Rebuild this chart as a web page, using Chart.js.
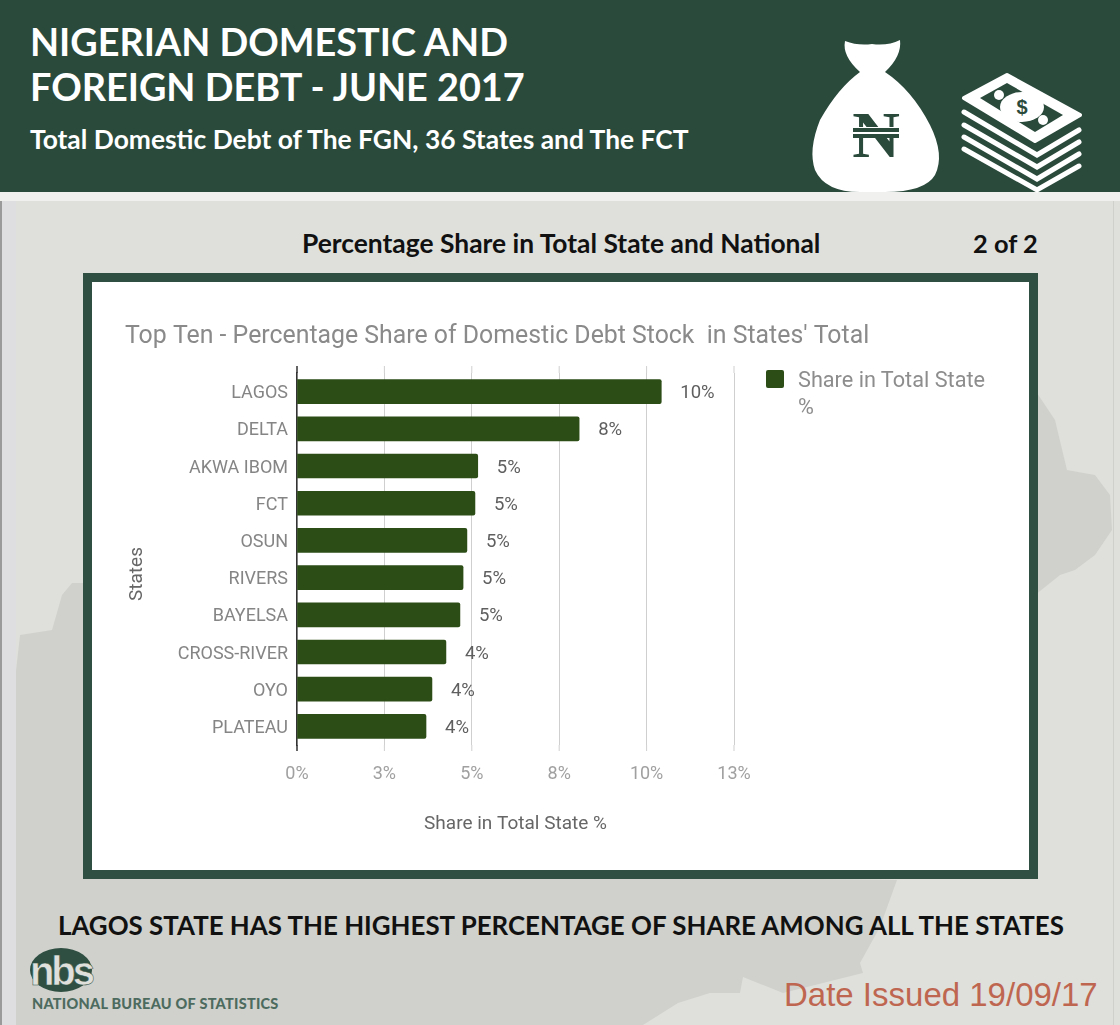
<!DOCTYPE html>
<html>
<head>
<meta charset="utf-8">
<title>Nigerian Domestic and Foreign Debt - June 2017</title>
<script src="https://cdn.jsdelivr.net/npm/chart.js@4"></script>
<style>
  html, body { margin: 0; padding: 0; }
  #page { position: relative; width: 1120px; height: 1025px; overflow: hidden; background: #dfe0dc; font-family: Lato, sans-serif; }
  #page > div, #page > svg { position: absolute; white-space: nowrap; }
  #header { left: 0; top: 0; width: 1120px; height: 192px; background: #2a4a3c; }
  #strip { left: 0; top: 192px; width: 1120px; height: 9px; background: #f0f1ee; }
  .head { left: 30px; color: #fff; font-weight: 700; font-size: 37.8px; line-height: 44px; }
  #sub { left: 30px; top: 123px; color: #fff; font-weight: 700; font-size: 26.4px; }
  #pct { left: 302px; top: 227px; color: #111; font-weight: 700; font-size: 26.4px; }
  #part { left: 973px; top: 228px; color: #111; font-weight: 700; font-size: 25.4px; }
  #frame { left: 83px; top: 273px; width: 937px; height: 588px; border: 9px solid #2f4f42; background: #fff; }
  #frame canvas { display: block; }
  #legend { left: 766px; top: 366px; color: #8d8d8d; font: 21.7px Roboto, sans-serif; line-height: 27px; white-space: normal !important; width: 240px; }
  #legend i { position: absolute; left: 0; top: 4px; width: 18px; height: 18px; border-radius: 2px; }
  #legend span { display: block; margin-left: 32px; }
  #note { left: 58px; top: 909px; color: #111; font-weight: 700; font-size: 25.9px; }
  #bureau { left: 32px; top: 995px; color: #4d6b5e; font-weight: 900; font-size: 14.5px; letter-spacing: 0.25px; }
  #issued { left: 784px; top: 976px; color: #bf6650; font: 33px "Liberation Sans", sans-serif; }
</style>
</head>
<body>
<div id="page">
  <svg id="map" width="1120" height="1025" style="left:0;top:0">
    <path fill="#d0d1cd" d="M1035 390 L1055 420 L1067 470 L1095 475 L1110 495 L1112 530 L1095 555 L1075 570 L1060 575 L1035 595 Z"/>
    <path fill="#d0d1cd" d="M90 583 L72 583 L62 595 L52 630 L20 635 L15 680 L12 900 L12 1025 L643 1025 L678 1003 L710 993 L740 993 L743 977 L783 993 L863 973 L860 963 L880 927 L897 880 L90 870 Z"/>
    <rect x="0" y="200" width="2" height="825" fill="#9a9a9a"/>
    <rect x="2" y="200" width="14" height="825" fill="#dedee0"/>
    <rect x="1113" y="200" width="1" height="825" fill="#cfcfcc"/>
  </svg>
  <div id="header"></div>
  <div id="strip"></div>
  <div class="head" style="top:20px">NIGERIAN DOMESTIC AND</div>
  <div class="head" style="top:65px">FOREIGN DEBT - JUNE 2017</div>
  <div id="sub">Total Domestic Debt of The FGN, 36 States and The FCT</div>

  <svg width="1120" height="200" style="left:0;top:0">
    <path fill="#fff" d="M845 41 Q858 46 872 44 Q888 46 900 40 Q902 56 885 72 Q912 90 930 125 Q945 155 935 175 Q925 192 885 192 L860 192 Q825 192 815 170 Q808 150 820 120 Q838 88 860 72 Q842 56 845 41 Z"/>
    <text x="876" y="157" text-anchor="middle" font-family="Liberation Serif" font-weight="700" font-size="66" fill="#2a4a3c">N</text>
    <rect x="853" y="127" width="46" height="11" fill="#fff"/>
    <rect x="853" y="128" width="46" height="4" fill="#2a4a3c"/>
    <rect x="853" y="134" width="46" height="4" fill="#2a4a3c"/>
    <path fill="#fff" stroke="#fff" stroke-width="4" stroke-linejoin="round" d="M964 98 L1007 75 L1080 115 L1035 141 Z"/>
    <path fill="#2a4a3c" d="M980 98 L1007 83 L1063 115 L1035 132 Z"/>
    <ellipse cx="1022" cy="107" rx="22" ry="15" fill="#fff"/>
    <circle cx="999" cy="95" r="5" fill="#fff"/>
    <circle cx="1043" cy="120" r="5" fill="#fff"/>
    <text x="1022" y="114" text-anchor="middle" font-family="Liberation Sans" font-weight="700" font-size="20" fill="#2a4a3c">$</text>
    <g fill="none" stroke="#fff" stroke-width="5" stroke-linecap="round" stroke-linejoin="miter">
      <polyline points="964,112 1037,155 1079,130"/>
      <polyline points="964,125 1037,167 1079,142"/>
      <polyline points="964,137 1037,179 1079,154"/>
      <polyline points="964,149 1037,190 1079,166"/>
    </g>
  </svg>

  <div id="pct">Percentage Share in Total State and National</div>
  <div id="part">2 of 2</div>

  <div id="frame"><canvas id="debtChart" width="937" height="588"></canvas></div>
  <div id="legend"></div>

  <div id="note">LAGOS STATE HAS THE HIGHEST PERCENTAGE OF SHARE AMONG ALL THE STATES</div>

  <svg width="80" height="60" style="left:24px;top:944px">
    <ellipse cx="37" cy="26" rx="31" ry="22" fill="#2f4f42"/>
    <text x="37" y="41" text-anchor="middle" font-family="Liberation Sans" font-weight="700" font-size="40" letter-spacing="-3" fill="#dfe0dc" stroke="#2f4f42" stroke-width="0.5">nbs</text>
  </svg>
  <div id="bureau">NATIONAL BUREAU OF STATISTICS</div>
  <div id="issued">Date Issued 19/09/17</div>
</div>

<script>
const states = ['LAGOS', 'DELTA', 'AKWA IBOM', 'FCT', 'OSUN', 'RIVERS', 'BAYELSA', 'CROSS-RIVER', 'OYO', 'PLATEAU'];
const shareValues = [10.42, 8.07, 5.17, 5.09, 4.86, 4.75, 4.66, 4.26, 3.86, 3.69];
const shareLabels = ['10%', '8%', '5%', '5%', '5%', '5%', '5%', '4%', '4%', '4%'];
const axisTicks = [0, 2.5, 5, 7.5, 10, 12.5];
const axisTickLabels = ['0%', '3%', '5%', '8%', '10%', '13%'];
const seriesName = ['Share in Total State', '%'];

const barColor = '#2d4d17';

// value labels sitting past the bar ends
const barLabels = {
  id: 'barLabels',
  afterDatasetsDraw(chart) {
    const ctx = chart.ctx;
    ctx.save();
    ctx.font = '18.5px Roboto';
    ctx.fillStyle = '#5f5f5f';
    ctx.textBaseline = 'middle';
    chart.getDatasetMeta(0).data.forEach((bar, i) => {
      ctx.fillText(shareLabels[i], bar.x + 19, bar.y + 2);
    });
    ctx.restore();
  }
};

// gridlines and baseline run a little past the first and last band
const axisStubs = {
  id: 'axisStubs',
  beforeDatasetsDraw(chart) {
    const { ctx, chartArea, scales } = chart;
    ctx.save();
    axisTicks.forEach((t, i) => {
      const x = scales.x.getPixelForValue(t);
      ctx.strokeStyle = i === 0 ? '#333' : '#cfcfcf';
      ctx.lineWidth = i === 0 ? 1.5 : 1;
      ctx.beginPath();
      ctx.moveTo(x, chartArea.top - 7);
      ctx.lineTo(x, chartArea.top);
      ctx.moveTo(x, chartArea.bottom);
      ctx.lineTo(x, chartArea.bottom + 6);
      ctx.stroke();
    });
    ctx.restore();
  }
};

// the "States" title sits below the middle of the axis in the original
const statesTitle = {
  id: 'statesTitle',
  afterDraw(chart) {
    const { ctx, chartArea, scales } = chart;
    ctx.save();
    ctx.translate(scales.y.left + 12, chartArea.top + 201);
    ctx.rotate(-Math.PI / 2);
    ctx.font = '19px Roboto';
    ctx.fillStyle = '#666';
    ctx.textAlign = 'center';
    ctx.textBaseline = 'middle';
    ctx.fillText('States', 0, 0);
    ctx.restore();
  }
};

// empty box on the right keeps room for the legend without squeezing the title
const legendRoom = {
  id: 'legendRoom',
  beforeInit(chart) {
    Chart.layouts.addBox(chart, {
      position: 'right',
      weight: 10,
      fullSize: false,
      options: {},
      isHorizontal() { return false; },
      update(w, h) { this.width = 295; this.height = h; },
      draw() {}
    });
  }
};

// legend lives in the page so it can wrap like the original
const htmlLegend = {
  id: 'htmlLegend',
  afterUpdate(chart) {
    const box = document.getElementById('legend');
    const ds = chart.data.datasets[0];
    box.innerHTML = '<i style="background:' + ds.backgroundColor + '"></i><span>' + seriesName.join('<br>') + '</span>';
  }
};

new Chart(document.getElementById('debtChart').getContext('2d'), {
  type: 'bar',
  data: {
    labels: states,
    datasets: [{
      label: seriesName.join(' '),
      data: shareValues,
      backgroundColor: barColor,
      barThickness: 24,
      borderRadius: 2
    }]
  },
  options: {
    indexAxis: 'y',
    responsive: false,
    animation: false,
    layout: { padding: { left: 33, right: 0, top: 40, bottom: 34 } },
    plugins: {
      legend: { display: false },
      tooltip: { enabled: false },
      title: {
        display: true,
        align: 'start',
        text: "Top Ten - Percentage Share of Domestic Debt Stock  in States' Total",
        color: '#8a8a8a',
        font: { family: 'Roboto', size: 24.85, weight: 'normal' },
        padding: { top: 0, bottom: 21.2 }
      }
    },
    scales: {
      x: {
        min: 0,
        max: 12.5,
        afterBuildTicks(scale) { scale.ticks = axisTicks.map(v => ({ value: v })); },
        afterFit(scale) { scale.height = 91; },
        grid: { color: '#cfcfcf', drawTicks: false },
        border: { display: false },
        ticks: {
          color: '#a0a0a0',
          padding: 19,
          maxRotation: 0,
          font: { family: 'Roboto', size: 18 },
          callback: (v, i) => axisTickLabels[i]
        },
        title: {
          display: true,
          text: 'Share in Total State %',
          color: '#666',
          font: { family: 'Roboto', size: 19 },
          padding: 0
        }
      },
      y: {
        afterFit(scale) { scale.width = 172; },
        grid: { display: false, drawTicks: false },
        border: { display: true, color: '#333', width: 1.5 },
        ticks: {
          color: '#858585',
          padding: 9,
          labelOffset: 2,
          font: { family: 'Roboto', size: 18 }
        }
      }
    }
  },
  plugins: [legendRoom, axisStubs, barLabels, statesTitle, htmlLegend]
});
</script>
</body>
</html>
